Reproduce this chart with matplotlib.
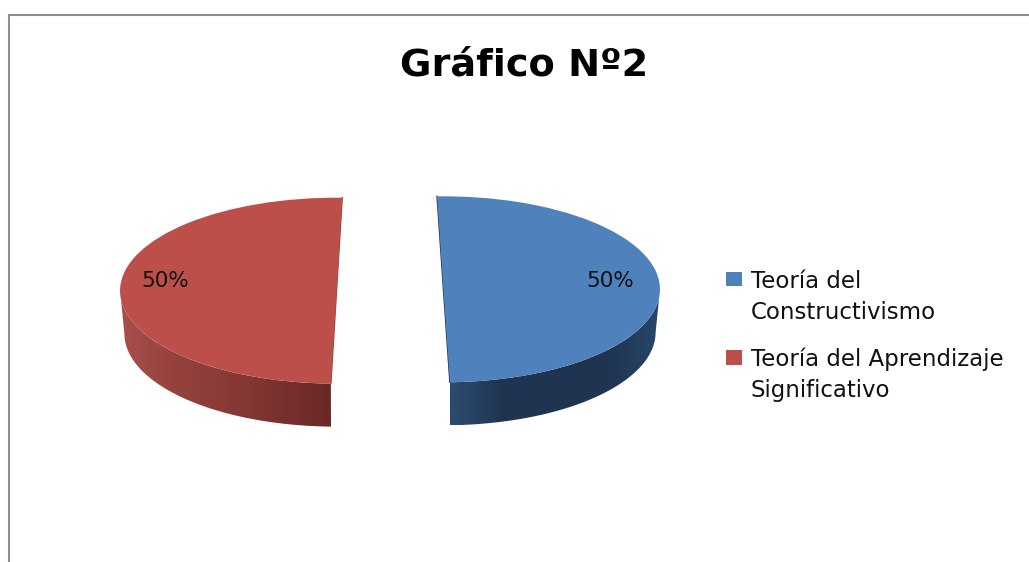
import numpy as np
import matplotlib
matplotlib.use('Agg')
import matplotlib.pyplot as plt
from matplotlib.colors import LinearSegmentedColormap
from matplotlib.path import Path

W, H = 1029, 562
title = 'Gráfico Nº2'
categories = ['Teoría del\nConstructivismo', 'Teoría del Aprendizaje\nSignificativo']
values = [50, 50]
colors = ['#4f81bd', '#bd4f4b']

plt.rcParams['font.family'] = ['DejaVu Sans']
fig = plt.figure(figsize=(W / 100, H / 100), dpi=100, facecolor='white')


def px_axes(left, top, right, bottom):
    return fig.add_axes([left / W, 1 - bottom / H, (right - left) / W, (bottom - top) / H])


# chart area border, only top and left are inside the crop
bg = px_axes(9, 15, W + 5, H + 5)
bg.set_xticks([])
bg.set_yticks([])
for side in ['right', 'bottom']:
    bg.spines[side].set_visible(False)
for side in ['left', 'top']:
    bg.spines[side].set_color('#8e8e8e')
    bg.spines[side].set_linewidth(1.5)

# unit circle gets squashed into an ellipse by the axes size
rx, ry = 216.5, 93
cx, cy = 390, 290
span = 1.6
ax = px_axes(cx - span * rx, cy - span * ry, cx + span * rx, cy + span * ry)
ax.patch.set_alpha(0)
wedges, texts, autotexts = ax.pie(values, colors=colors, startangle=-88.3, explode=[0.247, 0.247],
                                  autopct='%d%%', pctdistance=0.77, frame=False,
                                  textprops={'fontsize': 15.5, 'color': '#111111'})
ax.set_aspect('auto')
# perspective of the original: the cut edges of the two halves are not parallel
wedges[1].set_theta1(88.5)
wedges[1].set_theta2(268.5)
autotexts[0].set_y(0.1)
autotexts[1].set_y(0.1)
autotexts[1].set_x(autotexts[1].get_position()[0] - 0.02)

depth = 43 / ry
wall_stops = [
    ['#2d4c72', '#1f3550', '#1e3450', '#1f3550', '#29466a'],
    ['#a8504b', '#96423e', '#8a3a37', '#7a312f', '#692927'],
]
for w, stops in zip(wedges, wall_stops):
    x0, y0 = w.center
    # only the part of the rim facing down gets a wall
    a = max(w.theta1, 180) if w.theta1 >= 0 else w.theta1
    b = min(w.theta2, 360) if w.theta1 >= 0 else 0
    th = np.radians(np.linspace(a, b, 80))
    top = np.c_[x0 + np.cos(th), y0 + np.sin(th)]
    low = np.c_[x0 + 0.98 * np.cos(th), y0 + np.sin(th) - depth][::-1]
    poly = np.vstack([top, low, top[:1]])
    cmap = LinearSegmentedColormap.from_list('wall', stops)
    im = ax.imshow(np.linspace(0, 1, 256)[None, :], cmap=cmap, aspect='auto', zorder=0,
                   extent=[poly[:, 0].min(), poly[:, 0].max(), poly[:, 1].min(), poly[:, 1].max()])
    im.set_clip_path(Path(poly), transform=ax.transData)
    # dark sliver along the cut face
    t1, t2 = np.radians([w.theta1, w.theta2])
    ax.plot([x0 + np.cos(t1), x0, x0 + np.cos(t2)], [y0 + np.sin(t1), y0, y0 + np.sin(t2)],
            color=stops[1], lw=1.0, zorder=0.5)
ax.set_xlim(-span, span)
ax.set_ylim(-span, span)
ax.axis('off')

fig.text(524 / W, 1 - 66 / H, title, ha='center', va='center', fontsize=27.5, fontweight='bold', color='black')

leg = fig.legend(handles=wedges, labels=categories, loc='upper left', bbox_to_anchor=(726 / W, 1 - 270 / H),
                 frameon=False, fontsize=16.5, handlelength=0.70, handleheight=0.61, handletextpad=0.39,
                 labelspacing=1.05, borderpad=0, borderaxespad=0, labelcolor='#111111')
for t in leg.get_texts():
    t.set_linespacing(1.435)
# squares sit on the first text line, not in the middle of the entry
for h in leg.legend_handles:
    h.set_y(h.get_y() + 13.5)

fig.savefig('out.png', dpi=100)
